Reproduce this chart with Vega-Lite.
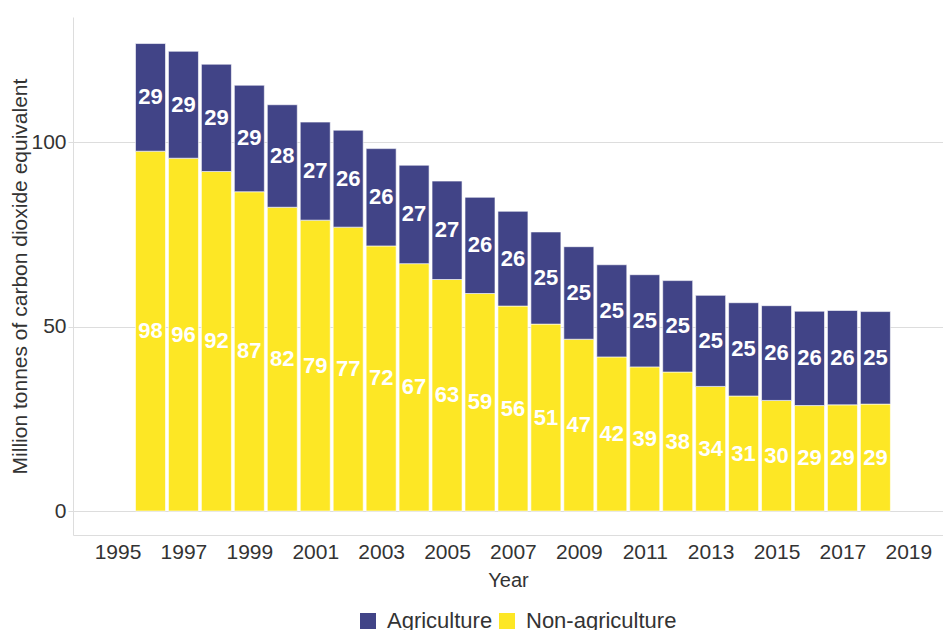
{
  "$schema": "https://vega.github.io/schema/vega-lite/v6.json",
  "width": 870,
  "height": 518,
  "autosize": {"type": "none"},
  "padding": {"left": 73, "top": 17, "right": 0, "bottom": 95},
  "background": "white",
  "config": {
    "font": "Liberation Sans",
    "view": {"stroke": null},
    "axis": {"labelFont": "Liberation Sans", "titleFont": "Liberation Sans", "labelColor": "#333333", "titleColor": "#333333", "titleFontWeight": "normal"}
  },
  "data": {
    "values": [
      {"year": 1996, "category": "Non-agriculture", "value": 97.6},
      {"year": 1996, "category": "Agriculture", "value": 29.2},
      {"year": 1997, "category": "Non-agriculture", "value": 95.7},
      {"year": 1997, "category": "Agriculture", "value": 29.0},
      {"year": 1998, "category": "Non-agriculture", "value": 92.1},
      {"year": 1998, "category": "Agriculture", "value": 29.1},
      {"year": 1999, "category": "Non-agriculture", "value": 86.6},
      {"year": 1999, "category": "Agriculture", "value": 28.9},
      {"year": 2000, "category": "Non-agriculture", "value": 82.4},
      {"year": 2000, "category": "Agriculture", "value": 27.8},
      {"year": 2001, "category": "Non-agriculture", "value": 78.9},
      {"year": 2001, "category": "Agriculture", "value": 26.6},
      {"year": 2002, "category": "Non-agriculture", "value": 77.0},
      {"year": 2002, "category": "Agriculture", "value": 26.3},
      {"year": 2003, "category": "Non-agriculture", "value": 71.9},
      {"year": 2003, "category": "Agriculture", "value": 26.4},
      {"year": 2004, "category": "Non-agriculture", "value": 67.1},
      {"year": 2004, "category": "Agriculture", "value": 26.7},
      {"year": 2005, "category": "Non-agriculture", "value": 62.8},
      {"year": 2005, "category": "Agriculture", "value": 26.7},
      {"year": 2006, "category": "Non-agriculture", "value": 59.0},
      {"year": 2006, "category": "Agriculture", "value": 26.1},
      {"year": 2007, "category": "Non-agriculture", "value": 55.6},
      {"year": 2007, "category": "Agriculture", "value": 25.7},
      {"year": 2008, "category": "Non-agriculture", "value": 50.7},
      {"year": 2008, "category": "Agriculture", "value": 25.0},
      {"year": 2009, "category": "Non-agriculture", "value": 46.6},
      {"year": 2009, "category": "Agriculture", "value": 25.1},
      {"year": 2010, "category": "Non-agriculture", "value": 41.8},
      {"year": 2010, "category": "Agriculture", "value": 25.0},
      {"year": 2011, "category": "Non-agriculture", "value": 39.1},
      {"year": 2011, "category": "Agriculture", "value": 25.0},
      {"year": 2012, "category": "Non-agriculture", "value": 37.7},
      {"year": 2012, "category": "Agriculture", "value": 24.8},
      {"year": 2013, "category": "Non-agriculture", "value": 33.8},
      {"year": 2013, "category": "Agriculture", "value": 24.7},
      {"year": 2014, "category": "Non-agriculture", "value": 31.2},
      {"year": 2014, "category": "Agriculture", "value": 25.3},
      {"year": 2015, "category": "Non-agriculture", "value": 30.0},
      {"year": 2015, "category": "Agriculture", "value": 25.7},
      {"year": 2016, "category": "Non-agriculture", "value": 28.6},
      {"year": 2016, "category": "Agriculture", "value": 25.6},
      {"year": 2017, "category": "Non-agriculture", "value": 28.8},
      {"year": 2017, "category": "Agriculture", "value": 25.6},
      {"year": 2018, "category": "Non-agriculture", "value": 29.0},
      {"year": 2018, "category": "Agriculture", "value": 25.1}
    ]
  },
  "transform": [
    {"stack": "value", "groupby": ["year"], "sort": [{"field": "category", "order": "descending"}], "as": ["v0", "v1"]},
    {"calculate": "(datum.v0 + datum.v1) / 2", "as": "vmid"}
  ],
  "encoding": {
    "x": {
      "field": "year", "type": "quantitative",
      "scale": {"domain": [1993.8, 2019.9], "nice": false, "zero": false},
      "axis": {
        "title": "Year", "values": [1995, 1997, 1999, 2001, 2003, 2005, 2007, 2009, 2011, 2013, 2015, 2017, 2019],
        "format": "d", "grid": false, "ticks": false, "domainColor": "#dddddd", "domainWidth": 1,
        "labelFontSize": 21, "labelPadding": 6, "titleFontSize": 20, "titlePadding": 8
      }
    }
  },
  "layer": [
    {
      "mark": {"type": "bar", "width": 30, "stroke": "#ffffff", "strokeWidth": 0.6},
      "encoding": {
        "y": {
          "field": "v0", "type": "quantitative",
          "scale": {"domain": [-6.5, 134], "nice": false, "zero": false},
          "axis": {
            "title": "Million tonnes of carbon dioxide equivalent", "values": [0, 50, 100],
            "grid": true, "gridColor": "#dddddd", "gridWidth": 1, "ticks": true, "tickSize": 5, "tickColor": "#dddddd",
            "domainColor": "#dddddd", "labelFontSize": 21, "labelPadding": 2, "titleFontSize": 21, "titlePadding": 0
          }
        },
        "y2": {"field": "v1"},
        "color": {
          "field": "category", "type": "nominal",
          "scale": {"domain": ["Agriculture", "Non-agriculture"], "range": ["#414487", "#fde725"]},
          "legend": {
            "title": null, "orient": "none", "legendX": 284, "legendY": 593, "direction": "horizontal", "symbolType": "square",
            "symbolSize": 256, "symbolStrokeWidth": 0, "symbolOpacity": 1, "labelFontSize": 22, "labelColor": "#333333",
            "columnPadding": 3, "labelOffset": 8
          }
        }
      }
    },
    {
      "mark": {"type": "text", "color": "white", "fontSize": 22, "fontWeight": "bold", "baseline": "middle", "align": "center"},
      "encoding": {
        "y": {"field": "vmid", "type": "quantitative"},
        "text": {"field": "value", "type": "quantitative", "format": ".0f"}
      }
    }
  ]
}
